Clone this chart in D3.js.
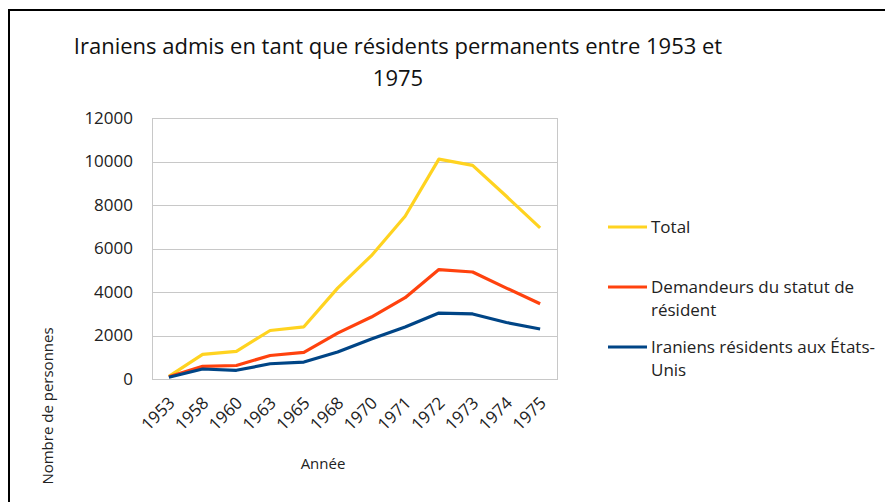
<!DOCTYPE html>
<html>
<head>
<meta charset="utf-8">
<script src="https://cdn.jsdelivr.net/npm/d3@7"></script>
<style>
  body { margin: 0; background: #fff; }
  svg { font-family: 'Open Sans', sans-serif; }
  .grid line { stroke: #c8c8c8; stroke-width: 1; }
  .tick text { fill: #222; }
</style>
</head>
<body>
<svg class="chart"></svg>
<script>
const years = ['1953', '1958', '1960', '1963', '1965', '1968', '1970', '1971', '1972', '1973', '1974', '1975']
const total = [120, 1130, 1270, 2230, 2400, 4180, 5670, 7480, 10110, 9820, 8400, 6950]
const demandeurs = [100, 580, 620, 1080, 1220, 2110, 2850, 3740, 5030, 4920, 4180, 3460]
const residents = [80, 460, 400, 700, 780, 1240, 1840, 2390, 3030, 2990, 2600, 2300]
const yTicks = [0, 2000, 4000, 6000, 8000, 10000, 12000]

const seriesNames = ['Total', 'Demandeurs du statut de|résident', 'Iraniens résidents aux États-|Unis']
const seriesData = [total, demandeurs, residents]
const colors = ['#ffd320', '#ff420e', '#004586']

const width = 885
const height = 502
const plot = { left: 152, top: 118, right: 557, bottom: 379 }

const svg = d3.select('.chart')
    .attr('width', width)
    .attr('height', height)

// frame (only top and left edges are visible in the picture)
svg.append('path')
    .attr('d', `M9,${height} V10 H${width}`)
    .attr('fill', 'none')
    .attr('stroke', '#000')
    .attr('stroke-width', 2)

// title
const title = svg.append('text')
    .attr('text-anchor', 'middle')
    .style('font-size', '22px')
    .attr('fill', '#111')
title.append('tspan').attr('x', 398).attr('y', 54)
    .text('Iraniens admis en tant que résidents permanents entre 1953 et')
title.append('tspan').attr('x', 398).attr('y', 86).text('1975')

const x = d3.scaleBand()
    .domain(years)
    .range([plot.left, plot.right])

const y = d3.scaleLinear()
    .domain([0, 12000])
    .range([plot.bottom, plot.top])

// grid
svg.append('g')
    .attr('class', 'grid')
    .selectAll('line')
    .data(yTicks)
    .enter()
    .append('line')
    .attr('x1', plot.left)
    .attr('x2', plot.right)
    .attr('y1', d => Math.round(y(d)) + 0.5)
    .attr('y2', d => Math.round(y(d)) + 0.5)

svg.append('rect')
    .attr('x', plot.left + 0.5)
    .attr('y', plot.top + 0.5)
    .attr('width', plot.right - plot.left)
    .attr('height', plot.bottom - plot.top)
    .attr('fill', 'none')
    .attr('stroke', '#c8c8c8')

// y axis
const yAxis = svg.append('g')
    .attr('transform', `translate(${plot.left}, 0)`)
    .call(d3.axisLeft(y).tickValues(yTicks).tickFormat(d3.format('d')).tickSize(0).tickPadding(19))
yAxis.select('.domain').remove()
yAxis.selectAll('text')
    .style('font-size', '17px')
    .style('font-family', "'Open Sans', sans-serif")

// x axis
const xAxis = svg.append('g')
    .attr('transform', `translate(0, ${plot.bottom})`)
    .call(d3.axisBottom(x).tickSize(0))
xAxis.select('.domain').remove()
xAxis.selectAll('text')
    .style('font-size', '17px')
    .style('font-family', "'Open Sans', sans-serif")
    .style('text-anchor', 'end')
    .attr('dx', 0)
    .attr('dy', 0)
    .attr('transform', 'translate(5, 23) rotate(-45)')

// axis titles
svg.append('text')
    .attr('x', 323)
    .attr('y', 469)
    .attr('text-anchor', 'middle')
    .style('font-size', '15px')
    .attr('fill', '#222')
    .text('Année')

svg.append('text')
    .attr('transform', 'translate(53, 406) rotate(-90)')
    .attr('text-anchor', 'middle')
    .style('font-size', '15px')
    .attr('fill', '#222')
    .text('Nombre de personnes')

// lines
const lineGen = d3.line()
    .x((d, i) => x(years[i]) + x.bandwidth() / 2)
    .y(d => y(d))

svg.selectAll('path.series')
    .data(seriesData)
    .enter()
    .append('path')
    .attr('class', 'series')
    .attr('d', lineGen)
    .attr('fill', 'none')
    .attr('stroke', (d, i) => colors[i])
    .attr('stroke-width', 3.2)
    .attr('stroke-linejoin', 'round')

// legend
const legend = svg.selectAll('g.legend')
    .data(seriesNames)
    .enter()
    .append('g')
    .attr('class', 'legend')
    .attr('transform', (d, i) => `translate(608, ${227 + i * 60})`)

legend.append('line')
    .attr('x1', 0)
    .attr('x2', 39)
    .attr('stroke', (d, i) => colors[i])
    .attr('stroke-width', 3)

legend.append('text')
    .attr('y', 6)
    .style('font-size', '17px')
    .attr('fill', '#222')
    .selectAll('tspan')
    .data(d => d.split('|'))
    .enter()
    .append('tspan')
    .attr('x', 43)
    .attr('dy', (d, i) => i === 0 ? 0 : 23)
    .text(d => d)
</script>
</body>
</html>
